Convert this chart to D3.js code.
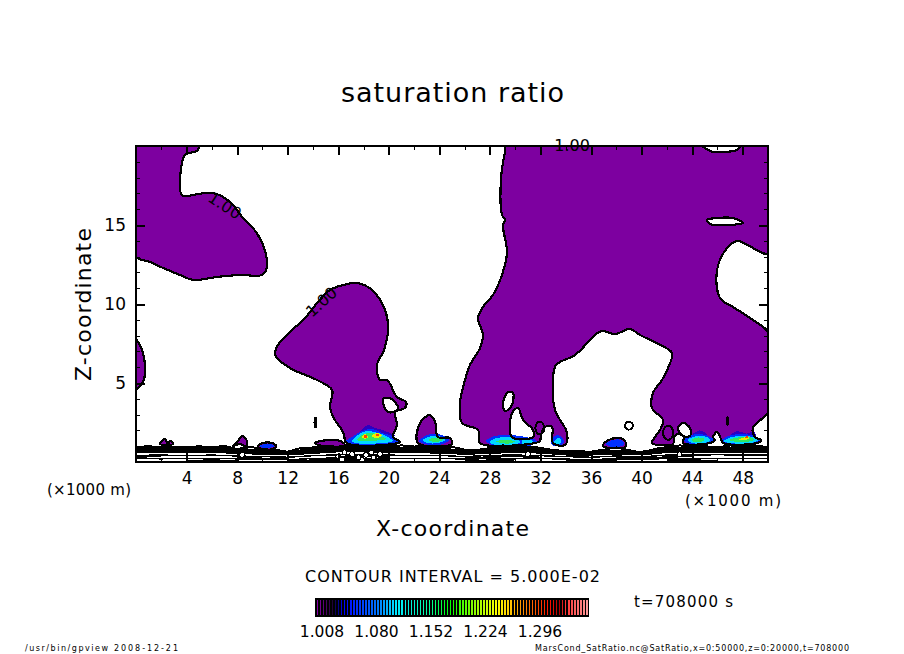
<!DOCTYPE html>
<html>
<head>
<meta charset="utf-8">
<script src="https://cdn.jsdelivr.net/npm/d3@7"></script>
<style>
body { margin: 0; background: #fff; }
svg { display: block; }
text { font-family: "DejaVu Sans", sans-serif; fill: #000; }
</style>
</head>
<body>
<div id="chart"></div>
<script>
// everything in km (x) and km (z)
const xMajor = [4, 8, 12, 16, 20, 24, 28, 32, 36, 40, 44, 48];
const xMinor = [2, 6, 10, 14, 18, 22, 26, 30, 34, 38, 42, 46];
const zMajor = [5, 10, 15];
const zMinor = [1, 2, 3, 4, 6, 7, 8, 9, 11, 12, 13, 14, 16, 17, 18, 19];

// purple area, ratio > 1.00 : outer contours
const topLeft = [[0,20.2],[4.9,20.2],[4.9,19.75],[3.88,19.43],[3.64,18.92],[3.48,17.22],[3.72,16.84],[4.9,16.96],[6.09,17.03],[7.44,16.46],[8.47,15.44],[9.26,14.81],[10.05,13.73],[10.36,12.34],[9.97,11.84],[8.23,11.84],[6.41,11.71],[4.51,11.52],[3.48,11.84],[2.14,12.28],[1.11,12.66],[-0.2,13.1]];
const leftEdge = [[-0.2,7.9],[0.47,7.1],[0.71,5.7],[0.55,5.06],[-0.2,4.56]];
const plume16 = [[17.48,11.33],[18.67,10.89],[19.7,9.62],[19.94,8.35],[19.62,7.09],[19.07,6.14],[19.3,5.19],[19.86,5.19],[20.65,4.11],[21.36,3.8],[21.28,3.42],[20.49,3.16],[20.65,2.34],[20.33,1.58],[20.89,1.27],[16.69,1.2],[16.38,1.9],[15.59,2.85],[15.35,3.48],[15.51,4.56],[14.32,5.19],[12.18,5.95],[11,6.77],[11.23,7.41],[12.18,8.23],[13.37,9.11],[14.4,10.13],[15.35,10.89],[16.38,11.2]];
const bump24 = [[22.31,1.2],[22.47,2.47],[23.26,2.97],[23.66,2.53],[23.89,1.58],[24.84,1.52],[25,1.14]];
const bigColumn = [[29.35,20.2],[44.07,20.2],[45.65,19.62],[46.44,19.62],[47.55,19.75],[48.18,20.2],[50.2,20.2],[50.2,13.2],[47.55,13.99],[46.76,13.54],[45.97,12.15],[46.2,10.38],[47.23,9.81],[48.58,9.11],[50.2,8.0],[50.2,3.4],[48.81,2.15],[48.97,1.58],[49.45,1.39],[49.13,1.2],[46.44,1.2],[46.28,1.46],[45.97,1.9],[45.65,1.58],[45.8,1.39],[45.41,1.2],[43.28,1.2],[43.35,1.58],[42.88,1.77],[42.56,1.58],[42.48,1.14],[40.82,1.2],[41.06,1.58],[41.46,2.03],[41.69,2.66],[40.82,3.42],[40.9,4.37],[41.61,5.19],[42.09,5.95],[42.41,6.9],[41.46,7.41],[39.87,8.04],[39.08,8.42],[37.9,8.1],[36.95,8.29],[36.47,8.16],[35.92,7.72],[34.73,6.77],[33.23,6.14],[32.99,5.19],[33.15,3.29],[34.1,1.84],[33.94,1.08],[32.99,1.2],[32.91,2.22],[32.36,2.22],[32.04,1.71],[31.96,1.33],[31.57,1.2],[27.22,1.2],[27.06,2.03],[25.79,2.47],[25.63,3.73],[26.03,5.19],[26.42,6.14],[27.22,7.22],[27.45,8.04],[27.06,9.11],[27.45,9.81],[28.24,10.57],[29.03,12.03],[29.35,13.29],[29.03,15],[29.19,15.32],[28.96,15.63],[28.88,17.97],[29.19,19.62]];
const smallPurple = [
  [[1.9,1.14],[2.29,1.46],[2.53,1.14],[2.69,1.33],[2.93,1.14]],
  [[7.67,1.01],[8.07,1.33],[8.39,1.65],[8.78,1.33],[8.7,1.01],[8.23,1.14]],
  [[9.65,1.01],[10.05,1.2],[10.76,1.2],[11.08,1.01],[10.76,0.82],[9.97,0.82]],
  [[14.16,1.2],[15.19,1.39],[16.14,1.33],[16.53,1.08],[15.51,0.95],[14.4,1.08]],
  [[36.95,1.01],[37.26,1.33],[38.13,1.52],[38.69,1.33],[38.69,0.95],[37.5,0.89]]
];

// white holes inside the purple
const plumeHole = [[19.54,3.99],[20.25,3.99],[20.73,3.42],[20.57,3.23],[19.94,3.16],[19.62,3.54]];
const columnHoles = [
  [[45.17,15.32],[45.97,15.44],[47.23,15.44],[48.02,15.13],[46.76,15],[45.41,15.06]],
  [[29.51,4.43],[29.83,4.37],[29.67,3.48],[29.19,3.23],[29.03,3.73],[29.35,4.37]],
  [[29.75,1.58],[29.75,3.1],[30.22,3.42],[30.62,2.66],[31.41,2.03],[31.41,1.58]],
  [[42.88,2.15],[43.28,2.47],[43.83,2.15],[43.83,1.65],[43.28,1.65]]
];

// closed little contours: x, z
const ringX = [14.2, 31.95, 39, 42.1, 46.8];
const ringZ = [2.5, 2.15, 2.3, 1.85, 2.6];
const ringRx = [0.08, 0.35, 0.3, 0.4, 0.05];
const ringRz = [0.3, 0.4, 0.25, 0.45, 0.25];

// shaded cores
const darkAreas = [[[17.72,1.9],[18.35,2.34],[18.92,2.15],[19.46,2.03],[20.49,1.65],[17.72,1.39]],[[44,1.7],[44.6,2],[45.2,1.7]],[[47,1.7],[47.6,1.95],[48.3,1.8],[48.9,1.95],[49,1.6]]];
const blueAreas = [[[16.53,1.27],[17.09,1.58],[17.88,1.96],[18.67,2.09],[19.46,1.84],[20.25,1.65],[20.89,1.33],[20.73,1.15],[16.93,1.1]],[[22.4,1.33],[23.1,1.72],[24.05,1.75],[24.75,1.39],[24.21,1.12],[22.94,1.12]],[[27.7,1.33],[28.4,1.65],[30.38,1.65],[31.7,1.33],[31.17,1.02],[28.4,1.02]],[[32.8,1.33],[33.23,1.68],[33.62,1.62],[33.85,1.2],[32.99,1.02]],[[37.18,1.14],[37.66,1.38],[38.45,1.38],[38.61,1.08],[37.66,0.95]],[[43.35,1.39],[43.99,1.72],[45.02,1.72],[45.7,1.39],[45.25,1.12],[43.83,1.12]],[[46.3,1.33],[46.99,1.68],[48.58,1.72],[49.45,1.39],[49.05,1.12],[46.76,1.12]],[[9.81,1.01],[10.21,1.14],[10.68,1.14],[10.92,1.01],[10.6,0.89],[10.05,0.89]]];
const cyanAreas = [[[17.09,1.33],[17.56,1.71],[18.2,1.96],[19.15,1.84],[19.94,1.58],[20.33,1.33],[17.33,1.2]],[[22.7,1.39],[23.3,1.62],[24.05,1.62],[24.5,1.39],[23.89,1.2],[23.1,1.2]],[[27.95,1.27],[28.56,1.52],[29.98,1.52],[30.4,1.27],[29.75,1.08],[28.4,1.08]],[[30.5,1.33],[31.2,1.42],[31.4,1.25],[30.6,1.15]],[[33.1,1.33],[33.46,1.52],[33.66,1.33],[33.46,1.14],[33.15,1.14]],[[43.65,1.39],[44.22,1.62],[45.02,1.62],[45.45,1.39],[44.94,1.2],[44,1.2]],[[46.5,1.33],[47.15,1.58],[48.58,1.62],[49.25,1.39],[48.58,1.2],[47,1.2]]];
const greenAreas = [[[17.48,1.39],[17.88,1.71],[18.67,1.84],[19.3,1.65],[19.78,1.46],[17.72,1.33]],[[23.1,1.39],[23.6,1.52],[24.3,1.42],[23.8,1.27]],[[28.5,1.3],[29.19,1.42],[29.95,1.3],[29.43,1.16]],[[43.95,1.39],[44.47,1.55],[45,1.46],[44.78,1.28],[44.15,1.28]],[[46.9,1.39],[47.63,1.55],[48.65,1.55],[48.9,1.39],[47.78,1.26]]];
const yellowAreas = [[[17.88,1.58],[18.13,1.77],[18.35,1.58],[18.13,1.46]],[[18.67,1.65],[19.07,1.84],[19.46,1.65],[19,1.52]],[[47.63,1.39],[48.26,1.58],[48.58,1.52],[48.18,1.39]]];
const redAreas = [[[18,1.65],[18.2,1.71],[18.3,1.58],[18.05,1.52]],[[19,1.75],[19.15,1.8],[19.25,1.7],[19.05,1.65]],[[48.2,1.6],[48.35,1.65],[48.42,1.55],[48.25,1.5]]];

// dense contours near the ground
const topContourX = [0,1,2,3,4,5,6,7,8,9,10,11,12,13,14,15,16,17,18,19,20,21,22,23,24,25,26,27,28,29,30,31,32,33,34,35,36,37,38,39,40,41,42,43,44,45,46,47,48,49,50];
const topContourZ = [0.95,1.0,0.92,0.98,0.92,1.0,0.92,1.02,0.82,0.98,0.8,0.78,0.65,0.88,0.92,1.02,0.96,1.1,0.95,1.05,1.0,1.05,0.98,1.0,0.9,0.96,0.78,0.72,0.9,1.05,1.0,0.98,0.9,0.72,0.65,0.68,0.65,0.78,0.92,0.75,0.58,0.82,0.95,1.05,0.98,1.0,0.92,1.05,0.95,1.02,0.95];
const lowX = [0,2,4,6,8,10,12,14,16,18,20,22,24,26,28,30,32,34,36,38,40,42,44,46,48,50];
const bandA = [.87,.87,.87,.89,.83,.72,.62,.83,.93,.93,.89,.85,.85,.71,.83,.89,.85,.67,.62,.72,.64,.89,.89,.89,.89,.89];
const bandB = [.78,.78,.78,.80,.74,.64,.56,.74,.84,.84,.80,.76,.76,.64,.74,.80,.76,.60,.56,.64,.58,.80,.80,.80,.80,.80];
const bandC = [.70,.70,.72,.72,.66,.58,.52,.66,.76,.76,.72,.70,.68,.58,.66,.72,.68,.54,.52,.58,.54,.72,.72,.72,.72,.72];
const bandD = [.62,.62,.64,.64,.58,.52,.48,.58,.68,.68,.64,.62,.60,.52,.58,.64,.60,.48,.48,.52,.48,.64,.64,.64,.64,.64];
const low1 = [.42,.44,.40,.44,.38,.34,.30,.40,.46,.44,.44,.40,.42,.34,.42,.44,.40,.34,.30,.38,.32,.44,.44,.46,.44,.44];
const low2 = [.32,.34,null,null,.28,.24,.22,null,.36,.34,.32,null,null,.26,.32,.34,.30,null,null,.28,.24,.32,.34,null,null,.32];
const low3 = [.22,.20,.24,.22,.20,.16,.14,.22,.26,.24,.22,.22,.24,.18,.22,.24,.22,.18,.16,.20,.16,.22,.24,.24,.22,.24];
const low4 = [null,null,.10,.12,.10,null,.08,.12,.12,.14,.12,null,null,.08,.12,.14,null,.10,.10,.10,null,.12,.12,.10,null,null];
const dotX = [16.0,16.5,17.1,17.6,18.2,18.8,19.3,16.3,17.9,18.6,8.4,31,43];
const dotZ = [0.35,0.62,0.5,0.3,0.45,0.28,0.5,0.15,0.12,0.6,0.45,0.5,0.5];

// colour bar
const barLevels = [1.002,1.006,1.010,1.014,1.018,1.022,1.026,1.030,1.034,1.038,1.042,1.046,1.050,1.054,1.058,1.062,1.066,1.070,1.074,1.078,1.082,1.086,1.090,1.094,1.098,1.102,1.106,1.110,1.114,1.118,1.122,1.126,1.130,1.134,1.138,1.142,1.146,1.150,1.154,1.158,1.162,1.166,1.170,1.174,1.178,1.182,1.186,1.190,1.194,1.198,1.202,1.206,1.210,1.214,1.218,1.222,1.226,1.230,1.234,1.238,1.242,1.246,1.250,1.254,1.258,1.262,1.266,1.270,1.274,1.278,1.282,1.286,1.290,1.294,1.298,1.302,1.306,1.310,1.314,1.318,1.322,1.326,1.330,1.334,1.338,1.342,1.346,1.350,1.354,1.358];
const barTicks = [1.008, 1.080, 1.152, 1.224, 1.296];
const stopValues = [1.002, 1.022, 1.028, 1.036, 1.08, 1.107, 1.15, 1.177, 1.21, 1.24, 1.273, 1.309, 1.322, 1.329, 1.358];
const stopColors = ["#8800a8", "#200038", "#000070", "#0000ff", "#0070ff", "#00e8ff", "#00ffa0", "#00ff00", "#90ff00", "#ffff00", "#ff9000", "#ff1000", "#b00000", "#ff3030", "#ff9898"];

const svg = d3.select("#chart").append("svg")
    .attr("width", 904)
    .attr("height", 654);

const x = d3.scaleLinear().domain([0, 50]).range([136, 768]);
const z = d3.scaleLinear().domain([0, 20]).range([462, 146]);

const line = d3.line().x(d => x(d[0])).y(d => z(d[1])).defined(d => d[1] !== null);
const smooth = d3.line().x(d => x(d[0])).y(d => z(d[1])).curve(d3.curveCatmullRomClosed.alpha(0.5));

svg.append("clipPath").attr("id", "frame").append("rect")
    .attr("x", x(0)).attr("y", z(20))
    .attr("width", x(50) - x(0)).attr("height", z(0) - z(20));

const purple = "#7d00a0";
const plot = svg.append("g").attr("clip-path", "url(#frame)").style("shape-rendering", "crispEdges");

// purple fill with contour outline, holes by evenodd
const areas = [
  [topLeft], [leftEdge], [plume16, plumeHole], [bump24], [bigColumn, ...columnHoles],
  ...smallPurple.map(d => [d])
];
plot.selectAll(".area").data(areas).join("path")
    .attr("class", "area")
    .attr("d", d => d.map(smooth).join(""))
    .attr("fill", purple)
    .attr("fill-rule", "evenodd");

const shades = [
  [darkAreas, "#2c00c0"], [blueAreas, "#0030ff"], [cyanAreas, "#00d8ff"],
  [greenAreas, "#30e860"], [yellowAreas, "#e8f000"], [redAreas, "#ff4000"]
];
shades.forEach(s => {
  plot.append("g").selectAll("path").data(s[0]).join("path")
      .attr("d", smooth)
      .attr("fill", s[1]);
});

plot.selectAll(".outline").data(areas).join("path")
    .attr("class", "outline")
    .attr("d", d => d.map(smooth).join(""))
    .attr("fill", "none")
    .attr("stroke", "#000")
    .attr("stroke-width", 2.2);

plot.selectAll(".ring").data(ringX).join("ellipse")
    .attr("class", "ring")
    .attr("cx", d => x(d))
    .attr("cy", (d, i) => z(ringZ[i]))
    .attr("rx", (d, i) => x(ringRx[i]) - x(0))
    .attr("ry", (d, i) => z(0) - z(ringRz[i]))
    .attr("fill", "none")
    .attr("stroke", "#000")
    .attr("stroke-width", 2);

// ground contours
const topLine = topContourX.map((d, i) => [d, topContourZ[i]]);
plot.append("path").attr("d", line(topLine))
    .attr("fill", "none").attr("stroke", "#000").attr("stroke-width", 2);
[bandA, bandB, bandC, bandD].forEach(b => {
  plot.append("path").attr("d", line(lowX.map((d, i) => [d, b[i]])))
      .attr("fill", "none").attr("stroke", "#000").attr("stroke-width", 2.2);
});
[low1, low2, low3, low4].forEach(b => {
  plot.append("path").attr("d", line(lowX.map((d, i) => [d, b[i]])))
      .attr("fill", "none").attr("stroke", "#000").attr("stroke-width", 1.4);
});
plot.selectAll(".dot").data(dotX).join("circle")
    .attr("class", "dot")
    .attr("cx", d => x(d))
    .attr("cy", (d, i) => z(dotZ[i]))
    .attr("r", 2.4)
    .attr("fill", "#fff")
    .attr("stroke", "#000");

// contour labels
const contourLabels = svg.append("g").style("font-size", "16px");
contourLabels.append("text").text("1.00")
    .attr("transform", `translate(${x(7.0)},${z(16.2)}) rotate(33)`).attr("text-anchor", "middle").attr("dy", 5);
contourLabels.append("text").text("1.00")
    .attr("transform", `translate(${x(14.7)},${z(10.1)}) rotate(-42)`).attr("text-anchor", "middle").attr("dy", 5);
contourLabels.append("text").text("1.00")
    .attr("transform", `translate(${x(34.5)},${z(20)})`).attr("text-anchor", "middle").attr("dy", 5);

// axes
function axisGroup(axis, tx, ty, labelled) {
  const g = svg.append("g").attr("transform", `translate(${tx},${ty})`).call(axis);
  g.select(".domain").remove();
  g.selectAll("line").attr("stroke", "#000").style("shape-rendering", "crispEdges");
  if (labelled) g.selectAll("text").style("font-family", "DejaVu Sans").style("font-size", "17px");
  else g.selectAll("text").remove();
  return g;
}
const fmt = d3.format("d");
axisGroup(d3.axisBottom(x).tickValues(xMajor).tickSize(-9).tickPadding(10).tickFormat(fmt), 0, 462, true)
    .selectAll("line").attr("stroke-width", 2);
axisGroup(d3.axisBottom(x).tickValues(xMinor).tickSize(-4).tickFormat(""), 0, 462, false);
axisGroup(d3.axisTop(x).tickValues(xMajor).tickSize(-9).tickFormat(""), 0, 146, false)
    .selectAll("line").attr("stroke-width", 2);
axisGroup(d3.axisTop(x).tickValues(xMinor).tickSize(-4).tickFormat(""), 0, 146, false);
axisGroup(d3.axisLeft(z).tickValues(zMajor).tickSize(-9).tickPadding(10).tickFormat(fmt), 136, 0, true)
    .selectAll("line").attr("stroke-width", 2);
axisGroup(d3.axisLeft(z).tickValues(zMinor).tickSize(-4).tickFormat(""), 136, 0, false);
axisGroup(d3.axisRight(z).tickValues(zMajor).tickSize(-9).tickFormat(""), 768, 0, false)
    .selectAll("line").attr("stroke-width", 2);
axisGroup(d3.axisRight(z).tickValues(zMinor).tickSize(-4).tickFormat(""), 768, 0, false);

svg.append("rect")
    .attr("x", x(0)).attr("y", z(20))
    .attr("width", x(50) - x(0)).attr("height", z(0) - z(20))
    .attr("fill", "none").attr("stroke", "#000").attr("stroke-width", 2.5)
    .style("shape-rendering", "crispEdges");

// colour bar
const barColor = d3.scaleLinear().domain(stopValues).range(stopColors);
const barX = d3.scaleLinear().domain([1.008, 1.296]).range([322, 540]);
svg.append("rect")
    .attr("x", 315).attr("y", 598).attr("width", 274).attr("height", 19)
    .attr("fill", "#000");
svg.append("g").style("shape-rendering", "crispEdges")
  .selectAll("rect").data(barLevels).join("rect")
    .attr("x", d => barX(d) - 0.75)
    .attr("y", 600)
    .attr("width", 1.5)
    .attr("height", 15)
    .attr("fill", d => barColor(d));
svg.append("g").selectAll("text").data(barTicks).join("text")
    .attr("x", d => barX(d))
    .attr("y", 637)
    .attr("text-anchor", "middle")
    .style("font-size", "15.5px")
    .text(d => d3.format(".3f")(d));

// text
function label(s, px, py, size, len) {
  return svg.append("text")
      .attr("x", px).attr("y", py)
      .attr("textLength", len)
      .attr("lengthAdjust", "spacing")
      .style("font-size", size + "px")
      .text(s);
}
label("saturation ratio", 341, 102, 27, 223);
label("X-coordinate", 376, 536, 22, 153);
label("(×1000 m)", 47, 495, 15, 84);
label("(×1000 m)", 685, 506, 15, 96);
label("CONTOUR INTERVAL = 5.000E-02", 305, 582, 16, 295);
label("t=708000 s", 634, 607, 15, 99);
label("/usr/bin/gpview", 25, 651, 8, 83);
label("2008-12-21", 114, 651, 8, 64);
label("MarsCond_SatRatio.nc@SatRatio,x=0:50000,z=0:20000,t=708000", 535, 651, 8, 314);
svg.append("text")
    .attr("transform", "translate(91,381) rotate(-90)")
    .attr("textLength", 153)
    .attr("lengthAdjust", "spacing")
    .style("font-size", "22px")
    .text("Z-coordinate");
</script>
</body>
</html>
